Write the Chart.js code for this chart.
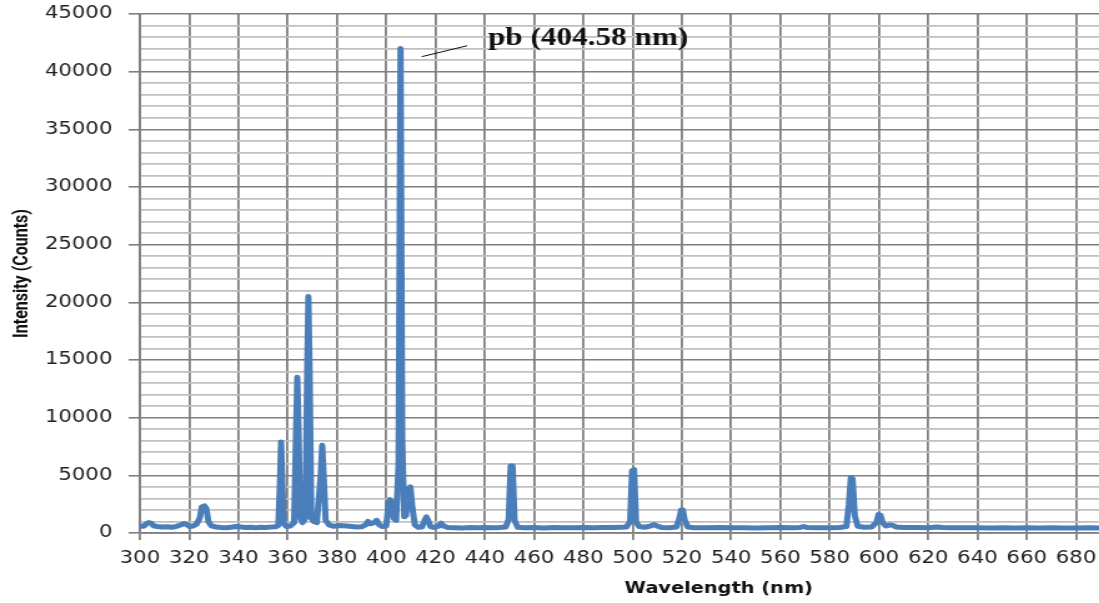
<!DOCTYPE html>
<html>
<head>
<meta charset="utf-8">
<script src="https://cdn.jsdelivr.net/npm/chart.js@4/dist/chart.umd.min.js"></script>
<style>
html, body { margin: 0; padding: 0; background: #fff; overflow: hidden; }
#wrap { width: 1099px; height: 603px; overflow: hidden; position: relative; }
/* the source picture is stretched sideways, so the canvas is too */
#spectrum { position: absolute; left: 0; top: 0; transform: scaleX(1.249); transform-origin: 0 0; }
</style>
</head>
<body>
<div id="wrap"><canvas id="spectrum" width="1039" height="603"></canvas></div>
<script>
// spectrum: wavelength (nm) and intensity (counts)
const wavelength = [
    300, 301.5, 302.6, 303.5, 304.5, 305.6, 307, 309, 311, 313, 315, 316.8, 318, 319, 320.2, 321.5,
    323, 324.3, 325.1, 326.2, 327, 327.8, 329, 331, 333, 335, 337, 339, 341, 343, 345, 347, 349, 351,
    353, 355, 356.2, 356.8, 357.3, 357.8, 358.4, 359.5, 361, 362.6, 363.4, 363.9, 364.4, 365.1, 366,
    367.2, 367.9, 368.4, 368.9, 369.6, 370.6, 371.8, 373.4, 374, 374.6, 375.4, 376.8, 378.5, 380, 382,
    384, 386, 388, 390, 391.6, 392.6, 393.6, 395, 396.1, 397.2, 398.5, 400, 400.9, 401.5, 402.2, 403,
    404, 405, 405.8, 406.5, 407.3, 408, 408.9, 409.8, 410.6, 411.6, 413, 414.5, 415.6, 416.3, 417, 418,
    419.5, 421.3, 422.3, 423.3, 425, 428, 431, 434, 437, 440, 443, 446, 448.5, 449.7, 450.5, 451.3,
    452.1, 453.3, 456, 460, 464, 468, 472, 476, 480, 484, 488, 492, 495, 497.5, 499, 499.8, 500.6,
    501.4, 502.6, 505, 507.5, 508.8, 510, 512, 515, 517.8, 518.9, 519.7, 520.4, 521.2, 522.4, 525, 530,
    535, 540, 545, 550, 555, 560, 565, 568, 569.5, 571, 575, 580, 584, 586.8, 587.8, 588.6, 589.3,
    590.2, 591.4, 594, 597, 599, 599.8, 600.6, 601.5, 602.8, 604.5, 605.6, 607, 610, 615, 620, 623.5,
    626, 630, 635, 640, 645, 650, 655, 660, 665, 670, 675, 680, 685, 690
];
const intensity = [
    620, 580, 780, 900, 860, 620, 560, 520, 540, 500, 580, 720, 820, 740, 560, 600,
    760, 1300, 2250, 2350, 2100, 1000, 620, 520, 480, 460, 500, 560, 520, 480, 500, 460, 490, 470,
    510, 540, 650, 4000, 7900, 4500, 800, 560, 600, 900, 9000, 13500, 9000, 1300, 900,
    1300, 14000, 20500, 14000, 1300, 1000, 900, 5000, 7600, 5000, 1100, 700, 580, 620, 640,
    600, 560, 520, 540, 700, 1000, 800, 900, 1100, 700, 560, 620, 2500, 2900, 2700, 1300,
    1100, 6000, 42000, 8000, 1400, 1500, 3800, 4000, 2200, 700, 500, 520, 1100, 1400, 1100, 550,
    480, 600, 850, 600, 470, 460, 440, 470, 450, 480, 460, 470, 520, 1200, 5800, 5800,
    1100, 500, 450, 470, 440, 480, 460, 450, 470, 460, 480, 470, 500, 520, 1000, 5400, 5500,
    1000, 560, 500, 620, 730, 600, 470, 460, 520, 1200, 2000, 2000, 1100, 520, 460, 450,
    470, 450, 460, 440, 460, 470, 450, 480, 560, 470, 450, 460, 470, 560, 2500, 4800, 4700,
    1500, 580, 500, 520, 900, 1600, 1550, 900, 600, 700, 660, 520, 480, 470, 460, 520,
    470, 450, 460, 450, 440, 450, 440, 450, 440, 450, 440, 440, 450, 440
];

const xTicksMin = 300, xTicksMax = 770, xStep = 20;
const yMin = 0, yMax = 45000, yMinorStep = 1000, yMajorStep = 5000;

const peakLabel = 'pb (404.58 nm)';
const leaderFrom = [414.4, 41300];
const leaderTo = [432.9, 42250];
const labelAt = [441.3, 42270];

const points = wavelength.map((w, i) => ({ x: w, y: intensity[i] }));

const annotatePeak = {
    id: 'annotatePeak',
    afterDatasetsDraw(chart) {
        const { ctx, scales: { x, y } } = chart;
        ctx.save();
        ctx.strokeStyle = '#111';
        ctx.lineWidth = 1;
        ctx.beginPath();
        ctx.moveTo(x.getPixelForValue(leaderFrom[0]), y.getPixelForValue(leaderFrom[1]));
        ctx.lineTo(x.getPixelForValue(leaderTo[0]), y.getPixelForValue(leaderTo[1]));
        ctx.stroke();
        ctx.fillStyle = '#111';
        ctx.font = 'bold 25px "Liberation Serif", "DejaVu Serif", serif';
        ctx.textBaseline = 'alphabetic';
        ctx.textAlign = 'left';
        ctx.fillText(peakLabel, x.getPixelForValue(labelAt[0]), y.getPixelForValue(labelAt[1]));
        ctx.restore();
    }
};

const majorGrid = '#7f7f7f';
const minorGrid = '#bfbfbf';
const tickFont = { family: '"DejaVu Sans", Verdana, sans-serif', size: 17 };

new Chart(document.getElementById('spectrum'), {
    type: 'line',
    data: {
        datasets: [{
            data: points,
            borderColor: '#4a7ebb',
            borderWidth: 5,
            pointRadius: 0,
            tension: 0,
            borderJoinStyle: 'round',
            borderCapStyle: 'round',
            fill: false
        }]
    },
    options: {
        responsive: false,
        animation: false,
        events: [],
        layout: { padding: { top: 14, left: 0, right: 0, bottom: 0 } },
        plugins: { legend: { display: false }, tooltip: { enabled: false } },
        scales: {
            x: {
                type: 'linear',
                min: xTicksMin,
                max: xTicksMax,
                ticks: {
                    stepSize: xStep,
                    includeBounds: false,
                    autoSkip: false,
                    maxRotation: 0,
                    padding: 8,
                    color: '#222',
                    font: tickFont
                },
                grid: { color: majorGrid, lineWidth: 1.8, tickLength: 7, tickColor: majorGrid },
                border: { color: majorGrid, width: 1.8 },
                title: {
                    display: true,
                    text: 'Wavelength (nm)',
                    color: '#111',
                    font: { family: '"DejaVu Sans", Verdana, sans-serif', size: 15.5, weight: 'bold' },
                    padding: { top: 5, bottom: 5 }
                },
                afterFit(scale) {
                    scale.height = 70;
                    scale.paddingLeft = 0;
                    scale.paddingRight = 0;
                }
            },
            y: {
                min: yMin,
                max: yMax,
                ticks: {
                    stepSize: yMinorStep,
                    maxTicksLimit: 100,
                    autoSkip: false,
                    padding: 13,
                    color: '#222',
                    font: tickFont,
                    callback: v => (v % yMajorStep === 0 ? String(v) : '')
                },
                grid: {
                    color: c => (c.tick.value % yMajorStep === 0 ? majorGrid : minorGrid),
                    lineWidth: c => (c.tick.value % yMajorStep === 0 ? 1.6 : 1.8),
                    tickLength: 9,
                    tickColor: c => (c.tick.value % yMajorStep === 0 ? majorGrid : 'rgba(0,0,0,0)')
                },
                border: { color: majorGrid, width: 1.8 },
                title: {
                    display: true,
                    text: 'Intensity (Counts)',
                    color: '#111',
                    font: { family: 'Roboto, "Liberation Sans", sans-serif', size: 16, weight: 'bold' },
                    padding: { top: 8, bottom: 0 }
                },
                afterFit(scale) {
                    scale.width = 112;
                    scale.paddingTop = 0;
                    scale.paddingBottom = 0;
                }
            }
        }
    },
    plugins: [annotatePeak]
});
</script>
</body>
</html>
